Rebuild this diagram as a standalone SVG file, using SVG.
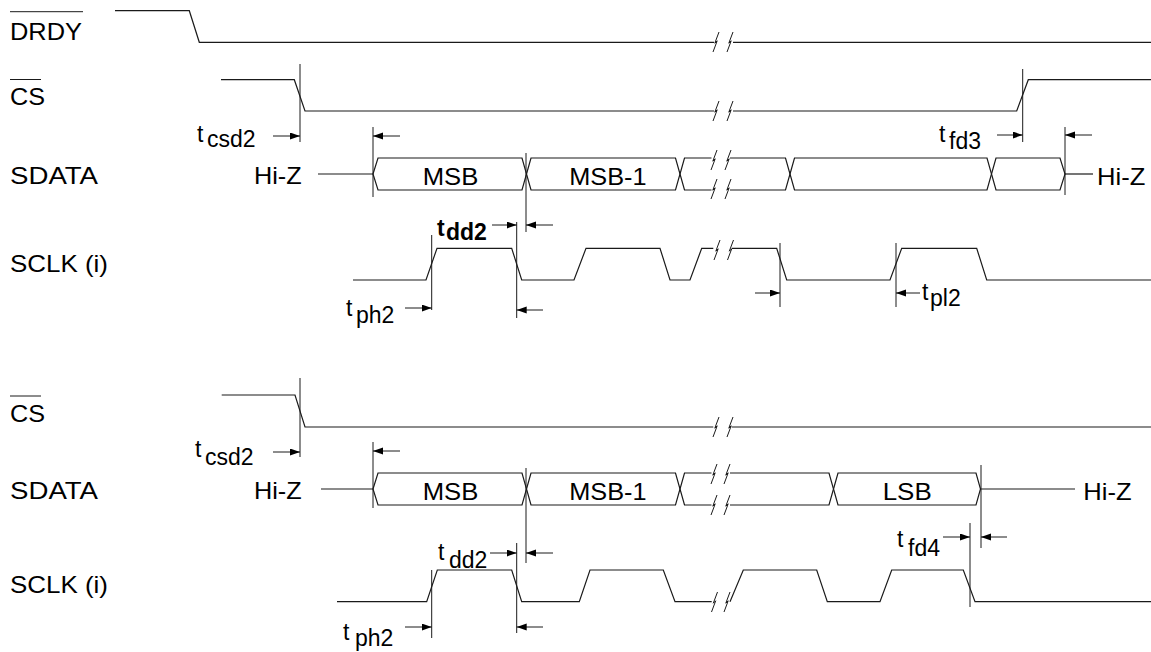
<svg xmlns="http://www.w3.org/2000/svg" width="1151" height="652" viewBox="0 0 1151 652">
<style>
.w{fill:none;stroke:#1a1a1a;stroke-width:1.2}
.g{fill:none;stroke:#1a1a1a;stroke-width:1}
.a{fill:none;stroke:#1a1a1a;stroke-width:1;marker-end:url(#ah)}
.l{font-family:"Liberation Sans",Arial,sans-serif;font-size:24px;fill:#000}
.t{font-family:"Liberation Sans",Arial,sans-serif;font-size:23px;fill:#000}
.b{font-weight:bold}
</style>
<defs>
<marker id="ah" markerWidth="11" markerHeight="8" refX="10" refY="3.5" orient="auto" markerUnits="userSpaceOnUse"><path d="M0,0L10,3.5L0,7z" fill="#000"/></marker>
<path id="brk" d="M3,-10L-1.2,1.2L1.2,-1.2L-3,10" fill="none" stroke="#1a1a1a" stroke-width="1"/>
</defs>

<g id="labels">
<text class="l" x="10" y="40" textLength="72" lengthAdjust="spacingAndGlyphs">DRDY</text>
<line class="g" x1="10" y1="11.7" x2="83" y2="11.7"/>
<text class="l" x="10" y="105" textLength="35" lengthAdjust="spacingAndGlyphs">CS</text>
<line class="g" x1="10" y1="79.5" x2="41" y2="79.5"/>
<text class="l" x="10" y="184" textLength="88" lengthAdjust="spacingAndGlyphs">SDATA</text>
<text class="l" x="10" y="272" textLength="98" lengthAdjust="spacingAndGlyphs">SCLK (i)</text>
<text class="l" x="10" y="422" textLength="35" lengthAdjust="spacingAndGlyphs">CS</text>
<line class="g" x1="10" y1="396" x2="41" y2="396"/>
<text class="l" x="10" y="499" textLength="88" lengthAdjust="spacingAndGlyphs">SDATA</text>
<text class="l" x="10" y="593" textLength="98" lengthAdjust="spacingAndGlyphs">SCLK (i)</text>
</g>

<g id="drdy">
<path class="w" d="M115,10.7H189.3L199.3,42.3H714M733,42.3H1151"/>
<use href="#brk" x="716" y="42"/>
<use href="#brk" x="730" y="42"/>
</g>

<g id="cs-top">
<path class="w" d="M221,79.7H294.3L305,111H714M733,111H1016.7L1028.3,79.7H1151"/>
<use href="#brk" x="716" y="111"/>
<use href="#brk" x="730" y="111"/>
</g>

<g id="sdata-top">
<line class="w" x1="318" y1="174" x2="373" y2="174"/>
<text class="l" x="254" y="184" textLength="47.7" lengthAdjust="spacingAndGlyphs">Hi-Z</text>
<path class="w" d="M373,174L378,158H522L526.5,174L522,190H378Z"/>
<path class="w" d="M526.5,174L531,158H675.5L680,174L675.5,190H531Z"/>
<path class="w" d="M711.5,158H684.5L680,174L684.5,190H711.5"/>
<path class="w" d="M730,158H785.5L790,174L785.5,190H730"/>
<path class="w" d="M790,174L794.5,158H987L991.5,174L987,190H794.5Z"/>
<path class="w" d="M991.5,174L996,158H1060L1065,174L1060,190H996Z"/>
<line class="w" x1="1065" y1="174" x2="1093" y2="174"/>
<use href="#brk" x="714" y="160"/>
<use href="#brk" x="728" y="160"/>
<use href="#brk" x="714" y="189"/>
<use href="#brk" x="728" y="189"/>
<text class="l" x="422.7" y="185" textLength="55.6" lengthAdjust="spacingAndGlyphs">MSB</text>
<text class="l" x="569.3" y="185" textLength="77.3" lengthAdjust="spacingAndGlyphs">MSB-1</text>
<text class="l" x="1097" y="185" textLength="48.3" lengthAdjust="spacingAndGlyphs">Hi-Z</text>
</g>

<g id="sclk-top">
<path class="w" d="M353,280H426L437,248.3H511.7L521.7,280H574L586,248.3H660L670,280H690L701.7,248.3H713.3M731.7,248.3H776.7L786.7,280H890L901.7,248.3H976.7L986.7,280H1151"/>
<use href="#brk" x="717" y="250"/>
<use href="#brk" x="730.5" y="250"/>
</g>

<g id="cs-bottom">
<path class="w" d="M221.7,395H295L305,427H713.3M731.7,427H1151"/>
<use href="#brk" x="716" y="427"/>
<use href="#brk" x="730" y="427"/>
</g>

<g id="sdata-bottom">
<line class="w" x1="321" y1="489" x2="373" y2="489"/>
<text class="l" x="254" y="499" textLength="47.7" lengthAdjust="spacingAndGlyphs">Hi-Z</text>
<path class="w" d="M373,489L378,473H522L526.5,489L522,505H378Z"/>
<path class="w" d="M526.5,489L531,473H675.5L680,489L675.5,505H531Z"/>
<path class="w" d="M711.5,473H684.5L680,489L684.5,505H711.5"/>
<path class="w" d="M730,473H829L833.5,489L829,505H730"/>
<path class="w" d="M833.5,489L838,473H976L980.5,489L976,505H838Z"/>
<line class="w" x1="980.5" y1="489" x2="1075" y2="489"/>
<use href="#brk" x="714" y="474"/>
<use href="#brk" x="727" y="474"/>
<use href="#brk" x="714" y="505"/>
<use href="#brk" x="727" y="505"/>
<text class="l" x="422.7" y="500" textLength="55.6" lengthAdjust="spacingAndGlyphs">MSB</text>
<text class="l" x="569.3" y="500" textLength="77.3" lengthAdjust="spacingAndGlyphs">MSB-1</text>
<text class="l" x="882.7" y="500" textLength="49" lengthAdjust="spacingAndGlyphs">LSB</text>
<text class="l" x="1083.3" y="500" textLength="48.3" lengthAdjust="spacingAndGlyphs">Hi-Z</text>
</g>

<g id="sclk-bottom">
<path class="w" d="M337,601.7H426.7L437.3,570H511.7L521.7,601.7H579.3L590,570H663.3L675,601.7H711.7M730,601.7L743.3,570H816.7L827.3,601.7H880L891.7,570H963.3L975,601.7H1151"/>
<use href="#brk" x="714.5" y="602"/>
<use href="#brk" x="727" y="602"/>
</g>

<g id="connectors">
<line class="g" x1="300" y1="64" x2="300" y2="142"/>
<line class="g" x1="1022.7" y1="69" x2="1022.7" y2="142"/>
<line class="g" x1="373" y1="127" x2="373" y2="197"/>
<line class="g" x1="1065" y1="127" x2="1065" y2="195"/>
<line class="g" x1="526" y1="153" x2="526" y2="232"/>
<line class="g" x1="431.7" y1="235" x2="431.7" y2="310"/>
<line class="g" x1="516.7" y1="222" x2="516.7" y2="318"/>
<line class="g" x1="780" y1="243" x2="780" y2="307"/>
<line class="g" x1="896" y1="243" x2="896" y2="307"/>
<line class="g" x1="300" y1="378" x2="300" y2="457"/>
<line class="g" x1="373" y1="442" x2="373" y2="508"/>
<line class="g" x1="526" y1="468" x2="526" y2="563"/>
<line class="g" x1="981" y1="465" x2="981" y2="548"/>
<line class="g" x1="970" y1="523" x2="970" y2="607"/>
<line class="g" x1="431.7" y1="570" x2="431.7" y2="638"/>
<line class="g" x1="516.7" y1="543" x2="516.7" y2="633"/>

<line class="a" x1="273" y1="136" x2="300" y2="136"/>
<line class="a" x1="400" y1="136" x2="373" y2="136"/>
<line class="a" x1="997" y1="135" x2="1022.7" y2="135"/>
<line class="a" x1="1092" y1="135" x2="1065" y2="135"/>
<line class="a" x1="492" y1="225" x2="516.7" y2="225"/>
<line class="a" x1="553" y1="225" x2="526" y2="225"/>
<line class="a" x1="405" y1="308" x2="431.7" y2="308"/>
<line class="a" x1="543" y1="310" x2="516.7" y2="310"/>
<line class="a" x1="755" y1="293" x2="780" y2="293"/>
<line class="a" x1="920" y1="293" x2="896" y2="293"/>
<line class="a" x1="273" y1="452" x2="300" y2="452"/>
<line class="a" x1="400" y1="451" x2="373" y2="451"/>
<line class="a" x1="943" y1="537" x2="970" y2="537"/>
<line class="a" x1="1007" y1="537" x2="981" y2="537"/>
<line class="a" x1="490" y1="553" x2="516.7" y2="553"/>
<line class="a" x1="553" y1="553" x2="526" y2="553"/>
<line class="a" x1="405" y1="627" x2="431.7" y2="627"/>
<line class="a" x1="543" y1="627" x2="516.7" y2="627"/>
</g>

<g id="timing-labels">
<text class="t" x="197" y="142">t</text><text class="t" x="207" y="147">csd2</text>
<text class="t" x="939" y="142">t</text><text class="t" x="949" y="149">fd3</text>
<text class="t b" x="437" y="236">t</text><text class="t b" x="446" y="240">dd2</text>
<text class="t" x="346" y="316">t</text><text class="t" x="356" y="323">ph2</text>
<text class="t" x="922" y="300">t</text><text class="t" x="930" y="306">pl2</text>
<text class="t" x="195" y="457">t</text><text class="t" x="205" y="465">csd2</text>
<text class="t" x="438" y="560">t</text><text class="t" x="449" y="568">dd2</text>
<text class="t" x="897" y="547">t</text><text class="t" x="908" y="556">fd4</text>
<text class="t" x="343" y="640">t</text><text class="t" x="355" y="646">ph2</text>
</g>
</svg>
